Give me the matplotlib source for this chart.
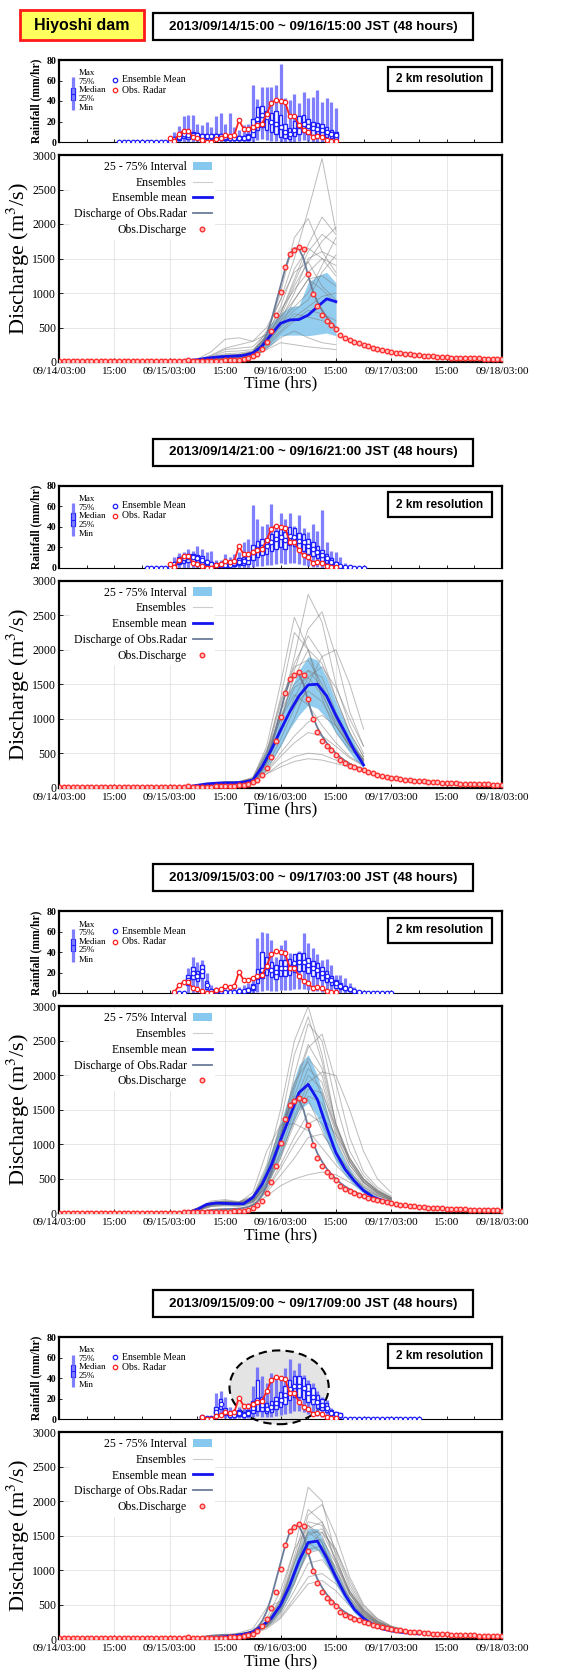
import matplotlib
matplotlib.use('Agg')
import matplotlib.pyplot as plt
from matplotlib.patches import Rectangle, Ellipse, Patch
from matplotlib.lines import Line2D

plt.rcParams['font.family'] = ['Liberation Serif', 'DejaVu Serif']
plt.rcParams['mathtext.fontset'] = 'stix'

# ---------------- data ----------------
TITLES = ['2013/09/14/15:00 ~ 09/16/15:00 JST (48 hours)',
          '2013/09/14/21:00 ~ 09/16/21:00 JST (48 hours)',
          '2013/09/15/03:00 ~ 09/17/03:00 JST (48 hours)',
          '2013/09/15/09:00 ~ 09/17/09:00 JST (48 hours)']
XTICK_HOURS = [0, 12, 24, 36, 48, 60, 72, 84, 96]
XTICK_LABELS = ['09/14/03:00', '15:00', '09/15/03:00', '15:00', '09/16/03:00',
                '15:00', '09/17/03:00', '15:00', '09/18/03:00']
FORECAST_START = [12, 18, 24, 30]   # hours after 09/14/03:00

# observed discharge, hourly from 09/14/03:00 (h0) to 09/18/03:00 (h96)
OBS_DISCHARGE = [12, 12, 12, 12, 12, 12, 12, 12, 12, 12,
                 12, 12, 12, 12, 12, 12, 12, 12, 12, 12,
                 12, 12, 12, 12, 12, 12, 12, 15, 25, 15,
                 14, 14, 15, 16, 18, 20, 22, 25, 28, 32,
                 38, 55, 80, 115, 185, 290, 450, 680, 1020, 1370,
                 1570, 1630, 1670, 1640, 1280, 990, 810, 680, 600, 540,
                 480, 395, 355, 320, 295, 270, 250, 228, 208, 190,
                 175, 160, 147, 136, 126, 117, 109, 102, 96, 90,
                 85, 80, 76, 72, 68, 65, 62, 59, 57, 55,
                 53, 51, 49, 47, 45, 44, 42]

# discharge simulated with observed radar rainfall, hourly h24..h78
RADAR_Q_START = 24
RADAR_DISCHARGE = [8, 8, 9, 10, 12, 15, 20, 30, 40, 50,
                   55, 60, 62, 64, 66, 70, 80, 95, 120, 170,
                   260, 400, 600, 850, 1100, 1350, 1550, 1650, 1640, 1500,
                   1250, 1030, 870, 750, 650, 570, 500, 440, 390, 350,
                   315, 285, 260, 235, 215, 195, 180, 165, 152, 140,
                   130, 120, 112, 105, 98]

# observed radar rainfall (mm/hr), hourly h24..h60
RADAR_RAIN_START = 24
RADAR_RAIN = [4, 1, 8, 11, 11, 5, 4, 2, 0, 0,
              3, 4, 7, 6, 7, 21, 13, 13, 15, 17,
              18, 27, 38, 41, 40, 39, 25, 25, 17, 12,
              10, 5, 6, 5, 2, 1, 1]

# ---- ensemble rainfall statistics, hourly, 48 values starting at start+1 ----
P1_RAIN_MEAN = [0, 0, 0, 0, 0, 0, 0, 0, 0, 0, 0,
                1, 3, 5, 8, 7, 7, 7, 6, 6, 6, 6, 6, 5, 4, 4, 4, 4, 5,
                12, 22, 26, 24, 20, 18, 15, 10, 8, 12, 16, 18, 16, 14, 13, 12, 10, 8, 7]
P1_RAIN_Q25 = [0, 0, 0, 0, 0, 0, 0, 0, 0, 0, 0,
               0, 1, 2, 4, 3, 4, 3, 3, 3, 3, 3, 3, 2, 2, 2, 2, 2, 2,
               5, 12, 15, 12, 10, 8, 5, 4, 3, 6, 8, 10, 8, 7, 7, 6, 5, 4, 3]
P1_RAIN_Q75 = [0, 0, 0, 0, 0, 0, 0, 0, 0, 0, 0,
               2, 5, 8, 12, 10, 10, 9, 8, 8, 8, 8, 8, 7, 7, 6, 6, 6, 8,
               22, 34, 35, 30, 28, 30, 26, 18, 14, 20, 25, 26, 22, 20, 19, 18, 15, 12, 10]
P1_RAIN_MAX = [0, 0, 0, 0, 0, 0, 0, 0, 0, 0, 0,
               3, 10, 16, 25, 26, 26, 18, 17, 20, 15, 25, 28, 18, 28, 15, 12, 17, 18,
               56, 42, 54, 54, 54, 56, 76, 43, 41, 47, 38, 49, 43, 44, 51, 39, 43, 39, 33]
P1_RAIN_MIN = [0, 0, 0, 0, 0, 0, 0, 0, 0, 0, 0,
               0, 0, 0, 0, 0, 0, 0, 0, 0, 0, 0, 0, 0, 0, 0, 0, 0, 0,
               0, 2, 3, 2, 1, 1, 0, 0, 0, 0, 1, 2, 1, 0, 0, 0, 0, 0, 0]

P2_RAIN_MEAN = [0, 0, 0, 0, 0,
                1, 4, 7, 9, 10, 10, 9, 8, 6, 4, 3, 3, 3, 3, 5, 6, 7, 9,
                15, 18, 20, 21, 25, 28, 30, 27, 31, 30, 26, 25, 21, 18, 15, 12, 9, 6, 4, 2, 1, 1, 0, 0, 0]
P2_RAIN_Q25 = [0, 0, 0, 0, 0,
               0, 2, 4, 5, 6, 6, 5, 4, 3, 2, 1, 1, 1, 1, 2, 3, 3, 4,
               8, 10, 12, 13, 16, 18, 20, 18, 22, 21, 17, 16, 13, 11, 9, 7, 5, 3, 2, 1, 0, 0, 0, 0, 0]
P2_RAIN_Q75 = [0, 0, 0, 0, 0,
               2, 6, 10, 12, 13, 13, 12, 11, 8, 6, 5, 5, 5, 5, 8, 9, 10, 14,
               22, 26, 28, 29, 33, 36, 38, 35, 40, 39, 34, 33, 28, 25, 21, 17, 13, 9, 6, 3, 2, 2, 0, 0, 0]
P2_RAIN_MAX = [0, 0, 0, 0, 0,
               3, 10, 14, 15, 18, 16, 21, 18, 15, 16, 8, 8, 13, 10, 13, 15, 25, 28,
               61, 48, 41, 43, 62, 41, 53, 48, 53, 41, 51, 39, 35, 43, 36, 56, 25, 16, 15, 10, 5, 3, 1, 0, 0]
P2_RAIN_MIN = [0, 0, 0, 0, 0,
               0, 0, 0, 0, 0, 0, 0, 0, 0, 0, 0, 0, 0, 0, 0, 0, 0, 0,
               1, 2, 2, 3, 3, 4, 5, 4, 5, 5, 4, 3, 2, 1, 1, 0, 0, 0, 0, 0, 0, 0, 0, 0, 0]

P3_RAIN_MEAN = [0, 0, 0,
                13, 20, 17, 22, 8, 2, 2, 2, 1, 1, 1, 2, 2,
                3, 6, 16, 23, 26, 23, 21, 25, 25, 26, 30, 31, 31, 28, 25, 23, 20, 17, 13, 10,
                7, 5, 4, 2, 1, 0, 0, 0, 0, 0, 0, 0]
P3_RAIN_Q25 = [0, 0, 0,
               8, 14, 12, 15, 4, 1, 1, 1, 0, 0, 0, 1, 1,
               1, 3, 10, 15, 18, 16, 14, 17, 17, 18, 21, 22, 22, 20, 17, 15, 13, 11, 8, 5,
               4, 3, 2, 1, 0, 0, 0, 0, 0, 0, 0, 0]
P3_RAIN_Q75 = [0, 0, 0,
               18, 26, 22, 28, 12, 4, 4, 3, 2, 2, 2, 3, 3,
               5, 9, 24, 40, 36, 31, 28, 33, 33, 34, 38, 39, 39, 35, 32, 30, 26, 22, 17, 13,
               10, 7, 5, 3, 1, 0, 0, 0, 0, 0, 0, 0]
P3_RAIN_MAX = [0, 0, 0,
               25, 36, 31, 33, 20, 8, 6, 5, 4, 4, 5, 6, 8,
               10, 16, 54, 60, 59, 52, 36, 47, 52, 39, 36, 41, 59, 49, 44, 38, 33, 34, 28, 18,
               18, 15, 10, 6, 3, 1, 0, 0, 0, 0, 0, 0]
P3_RAIN_MIN = [0, 0, 0,
               0, 0, 0, 0, 0, 0, 0, 0, 0, 0, 0, 0, 0,
               0, 0, 1, 2, 3, 2, 2, 3, 3, 3, 4, 4, 4, 3, 2, 2, 1, 1, 0, 0,
               0, 0, 0, 0, 0, 0, 0, 0, 0, 0, 0, 0]

P4_RAIN_MEAN = [2, 1, 1, 7, 15, 7, 4, 4, 6, 4, 6, 11, 19, 14, 10, 12, 16, 19, 24, 29,
                32, 32, 30, 25, 22, 17, 14, 11, 6, 5, 4,
                0, 0, 0, 0, 0, 0, 0, 0, 0, 0, 0, 0, 0, 0, 0, 0, 0]
P4_RAIN_Q25 = [1, 0, 0, 4, 10, 4, 2, 2, 3, 2, 3, 6, 8, 8, 6, 7, 10, 12, 15, 19,
               22, 22, 20, 17, 15, 11, 9, 7, 4, 3, 2,
               0, 0, 0, 0, 0, 0, 0, 0, 0, 0, 0, 0, 0, 0, 0, 0, 0]
P4_RAIN_Q75 = [3, 2, 2, 12, 20, 11, 6, 6, 9, 7, 9, 18, 38, 22, 16, 18, 22, 26, 32, 38,
               42, 42, 40, 34, 30, 24, 20, 16, 9, 7, 6,
               0, 0, 0, 0, 0, 0, 0, 0, 0, 0, 0, 0, 0, 0, 0, 0, 0]
P4_RAIN_MAX = [4, 3, 3, 25, 27, 22, 12, 10, 12, 14, 16, 32, 51, 42, 35, 45, 42, 42, 50, 59,
               48, 55, 43, 38, 35, 27, 22, 19, 11, 7, 5,
               0, 0, 0, 0, 0, 0, 0, 0, 0, 0, 0, 0, 0, 0, 0, 0, 0]
P4_RAIN_MIN = [0, 0, 0, 1, 3, 1, 0, 0, 1, 0, 1, 2, 3, 2, 2, 2, 3, 4, 5, 6,
               8, 8, 7, 5, 4, 3, 2, 1, 0, 0, 0,
               0, 0, 0, 0, 0, 0, 0, 0, 0, 0, 0, 0, 0, 0, 0, 0, 0]

# ---- ensemble discharge: mean and 25-75% band every 2 h (25 values from start) ----
P1_Q_MEAN = [0, 0, 0, 1, 2, 3, 5, 10, 20, 35, 55, 70, 80, 85, 95, 130, 230, 400, 560, 610, 615, 680, 800, 915, 875]
P1_Q_25 = [0, 0, 0, 0, 1, 2, 3, 6, 12, 22, 35, 45, 55, 60, 70, 95, 150, 250, 380, 390, 390, 380, 400, 420, 380]
P1_Q_75 = [0, 0, 0, 2, 3, 5, 8, 15, 30, 50, 75, 95, 110, 115, 125, 170, 330, 560, 700, 800, 820, 1150, 1250, 1300, 1150]

P2_Q_MEAN = [0, 0, 1, 2, 5, 15, 35, 55, 65, 70, 70, 80, 110, 300, 550, 830, 1100, 1330, 1490, 1500, 1330, 1050, 800, 540, 330]
P2_Q_25 = [0, 0, 0, 1, 3, 10, 25, 40, 50, 55, 55, 62, 85, 200, 380, 600, 850, 1050, 1200, 1150, 1000, 800, 600, 420, 280]
P2_Q_75 = [0, 0, 1, 3, 8, 22, 45, 70, 80, 85, 85, 100, 140, 420, 700, 1050, 1400, 1700, 1900, 1850, 1600, 1250, 950, 650, 380]

P3_Q_MEAN = [0, 0, 10, 60, 130, 150, 145, 140, 140, 230, 420, 700, 1060, 1400, 1750, 1870, 1650, 1250, 880, 640, 470, 330, 240, 190, 155]
P3_Q_25 = [0, 0, 5, 40, 100, 120, 120, 115, 115, 170, 320, 550, 850, 1200, 1500, 1600, 1400, 1050, 750, 550, 400, 290, 210, 170, 140]
P3_Q_75 = [0, 0, 12, 80, 150, 170, 165, 160, 160, 280, 530, 900, 1300, 1750, 2150, 2300, 2000, 1500, 1050, 760, 540, 380, 280, 210, 170]

P4_Q_MEAN = [5, 10, 20, 35, 50, 70, 100, 190, 300, 490, 780, 1130, 1400, 1420, 1180, 900, 640, 430, 300, 210, 150, 120, 100, 85, 75]
P4_Q_25 = [3, 7, 15, 28, 40, 55, 80, 150, 240, 400, 650, 1000, 1280, 1300, 1070, 800, 560, 380, 265, 185, 135, 108, 92, 80, 70]
P4_Q_75 = [6, 12, 25, 42, 60, 85, 120, 230, 360, 580, 900, 1300, 1600, 1600, 1320, 1000, 720, 490, 340, 240, 170, 135, 110, 95, 82]

# ---- individual ensemble members, every 3 h (17 values from start) ----
P1_MEMBERS = [
    [0, 0, 0, 0, 2, 5, 15, 40, 80, 100, 150, 450, 900, 1500, 2200, 2950, 1900],
    [0, 0, 0, 0, 2, 5, 20, 60, 90, 100, 140, 400, 1000, 1800, 2080, 1600, 1300],
    [0, 0, 0, 0, 3, 8, 25, 70, 100, 110, 150, 350, 700, 1200, 1700, 2100, 1850],
    [0, 0, 0, 0, 2, 6, 20, 50, 80, 90, 130, 300, 650, 1100, 1450, 1750, 1950],
    [0, 0, 0, 0, 2, 5, 15, 45, 70, 80, 120, 280, 600, 1000, 1500, 1600, 1500],
    [0, 0, 0, 0, 3, 8, 30, 100, 200, 250, 300, 500, 900, 1300, 1450, 1100, 900],
    [0, 0, 0, 0, 3, 10, 40, 150, 330, 350, 300, 400, 650, 900, 1200, 1250, 1100],
    [0, 0, 0, 0, 2, 5, 15, 40, 60, 70, 100, 250, 450, 650, 800, 950, 1000],
    [0, 0, 0, 0, 1, 3, 10, 30, 50, 60, 90, 200, 350, 450, 350, 280, 250],
    [0, 0, 0, 0, 1, 3, 10, 30, 50, 55, 80, 180, 280, 250, 220, 200, 180],
    [0, 0, 0, 0, 2, 6, 25, 80, 150, 160, 180, 350, 600, 800, 1000, 1400, 1800],
    [0, 0, 0, 0, 2, 5, 20, 60, 100, 110, 140, 320, 550, 750, 900, 1300, 1550],
    [0, 0, 0, 0, 2, 5, 18, 50, 80, 90, 120, 280, 500, 700, 650, 600, 500],
    [0, 0, 0, 0, 2, 6, 22, 70, 120, 130, 160, 380, 800, 1350, 1650, 1500, 1250],
    [0, 0, 0, 0, 2, 5, 18, 55, 90, 100, 130, 330, 700, 1150, 1600, 1850, 1700],
    [0, 0, 0, 0, 1, 4, 12, 35, 55, 65, 95, 220, 420, 600, 750, 700, 600],
    [0, 0, 0, 0, 2, 7, 28, 90, 180, 200, 220, 420, 750, 1050, 1300, 1500, 1400],
    [0, 0, 0, 0, 1, 4, 14, 40, 65, 75, 110, 260, 520, 900, 1200, 1050, 850],
]
P2_MEMBERS = [
    [0, 0, 1, 5, 30, 60, 80, 80, 120, 400, 1100, 1900, 2800, 2400, 1500, 900, 500],
    [0, 0, 1, 5, 25, 55, 70, 75, 110, 350, 900, 1700, 2300, 2550, 1900, 1100, 600],
    [0, 0, 1, 6, 35, 70, 90, 90, 140, 600, 1500, 2470, 2000, 1300, 800, 550, 400],
    [0, 0, 1, 5, 30, 60, 80, 80, 130, 500, 1300, 2250, 2000, 1400, 900, 600, 400],
    [0, 0, 1, 4, 20, 45, 60, 65, 100, 250, 600, 1000, 1500, 1900, 2000, 1500, 850],
    [0, 0, 1, 5, 30, 60, 75, 80, 120, 400, 1000, 1600, 2000, 1800, 1300, 800, 450],
    [0, 0, 1, 5, 30, 60, 75, 80, 110, 350, 800, 1300, 1700, 1600, 1100, 700, 400],
    [0, 0, 1, 4, 25, 50, 65, 70, 90, 250, 500, 750, 950, 1050, 900, 600, 380],
    [0, 0, 1, 3, 20, 45, 60, 60, 80, 200, 350, 450, 500, 480, 400, 330, 280],
    [0, 0, 1, 3, 20, 45, 60, 60, 80, 200, 300, 380, 420, 400, 350, 300, 250],
    [0, 0, 1, 5, 30, 60, 75, 80, 120, 450, 1100, 1500, 1700, 1450, 1000, 650, 420],
    [0, 0, 1, 5, 28, 55, 70, 75, 110, 380, 850, 1200, 1400, 1250, 900, 600, 380],
    [0, 0, 1, 6, 35, 65, 80, 85, 150, 550, 1000, 1350, 1200, 900, 650, 450, 330],
    [0, 0, 1, 5, 30, 60, 75, 80, 125, 480, 1200, 1800, 2200, 1900, 1300, 800, 450],
    [0, 0, 1, 4, 25, 50, 65, 70, 100, 300, 700, 1150, 1600, 1750, 1450, 1000, 600],
    [0, 0, 1, 5, 28, 55, 70, 75, 115, 420, 1000, 1450, 1600, 1350, 950, 620, 400],
    [0, 0, 1, 4, 22, 48, 62, 65, 90, 230, 450, 650, 800, 750, 600, 430, 320],
    [0, 0, 1, 5, 30, 60, 75, 80, 130, 520, 1250, 1750, 1850, 1500, 1000, 650, 420],
]
P3_MEMBERS = [
    [0, 3, 80, 180, 200, 170, 250, 700, 1500, 2500, 3000, 2300, 1300, 800, 500, 330, 230],
    [0, 3, 70, 160, 180, 160, 230, 600, 1300, 2300, 2850, 2200, 1300, 750, 450, 300, 200],
    [0, 3, 60, 150, 170, 150, 200, 500, 1100, 2000, 2750, 2500, 1600, 900, 550, 350, 230],
    [0, 3, 60, 140, 160, 150, 200, 450, 1000, 1800, 2400, 2600, 1900, 1100, 600, 380, 250],
    [0, 2, 50, 120, 140, 130, 180, 400, 800, 1400, 1900, 2050, 2000, 1500, 900, 500, 300],
    [0, 3, 70, 150, 170, 160, 300, 900, 1280, 1300, 1200, 950, 700, 500, 350, 250, 180],
    [0, 2, 50, 120, 140, 130, 170, 350, 700, 1100, 1450, 1300, 900, 600, 400, 280, 200],
    [0, 2, 40, 100, 120, 110, 150, 300, 550, 800, 1100, 1150, 900, 600, 380, 260, 190],
    [0, 2, 40, 100, 110, 100, 130, 250, 400, 500, 560, 600, 560, 450, 340, 260, 190],
    [0, 3, 60, 130, 150, 140, 190, 450, 1000, 1600, 2100, 1900, 1200, 750, 480, 320, 220],
    [0, 3, 55, 130, 150, 140, 180, 400, 900, 1500, 2000, 1800, 1150, 700, 450, 300, 200],
    [0, 3, 70, 150, 170, 160, 220, 600, 1200, 1900, 2200, 1700, 1050, 650, 420, 290, 200],
    [0, 2, 50, 120, 140, 130, 170, 380, 800, 1300, 1700, 1600, 1100, 700, 450, 300, 210],
    [0, 3, 65, 150, 170, 155, 210, 550, 1150, 1850, 2450, 2100, 1300, 780, 480, 320, 220],
    [0, 3, 60, 140, 160, 150, 200, 500, 1050, 1700, 2250, 2000, 1250, 750, 460, 310, 210],
    [0, 2, 55, 130, 150, 140, 180, 420, 850, 1350, 1800, 1750, 1250, 800, 500, 330, 220],
    [0, 3, 70, 160, 180, 165, 240, 650, 1250, 1700, 1650, 1200, 800, 550, 380, 270, 190],
    [0, 2, 45, 110, 130, 120, 160, 330, 650, 1000, 1300, 1400, 1150, 800, 500, 330, 220],
]
P4_MEMBERS = [
    [3, 15, 40, 70, 110, 250, 600, 1300, 2200, 2000, 1200, 650, 380, 230, 160, 120, 95],
    [3, 15, 40, 70, 100, 220, 500, 1100, 1800, 1950, 1500, 900, 500, 300, 190, 130, 100],
    [3, 15, 40, 70, 110, 240, 550, 1200, 1880, 1700, 1100, 650, 380, 230, 160, 120, 95],
    [3, 15, 40, 70, 100, 200, 450, 950, 1600, 1700, 1300, 800, 450, 280, 180, 130, 100],
    [3, 15, 40, 70, 120, 300, 700, 1300, 1650, 1400, 900, 550, 340, 220, 150, 115, 90],
    [2, 12, 35, 60, 90, 180, 380, 800, 1300, 1350, 1000, 650, 400, 250, 170, 125, 95],
    [2, 12, 35, 60, 90, 180, 350, 700, 1100, 1150, 900, 600, 380, 240, 165, 120, 92],
    [2, 10, 30, 55, 80, 150, 300, 550, 800, 850, 700, 480, 320, 210, 150, 115, 90],
    [2, 12, 35, 60, 90, 170, 320, 600, 900, 950, 800, 550, 350, 230, 160, 120, 92],
    [4, 18, 50, 90, 150, 450, 550, 800, 1350, 1550, 1300, 850, 480, 290, 185, 130, 98],
    [3, 15, 40, 70, 110, 230, 500, 1100, 1650, 1500, 1000, 600, 360, 225, 155, 118, 92],
    [3, 15, 40, 70, 100, 210, 480, 1000, 1500, 1600, 1250, 750, 430, 260, 170, 125, 96],
    [2, 12, 35, 60, 90, 190, 420, 950, 1400, 1250, 850, 520, 330, 210, 150, 115, 90],
    [3, 15, 40, 70, 105, 230, 520, 1150, 1700, 1650, 1150, 680, 400, 240, 165, 122, 95],
    [3, 14, 38, 66, 100, 210, 470, 1000, 1550, 1550, 1150, 700, 410, 250, 168, 123, 94],
    [2, 12, 35, 60, 95, 200, 430, 900, 1400, 1450, 1100, 700, 420, 260, 170, 125, 95],
    [3, 15, 42, 75, 115, 260, 560, 1100, 1550, 1400, 950, 580, 350, 225, 155, 118, 92],
    [2, 13, 36, 62, 95, 190, 400, 850, 1250, 1300, 1050, 680, 420, 260, 172, 126, 96],
]

PANELS = [
    dict(rain=(P1_RAIN_MIN, P1_RAIN_Q25, P1_RAIN_MEAN, P1_RAIN_Q75, P1_RAIN_MAX),
         q=(P1_Q_25, P1_Q_MEAN, P1_Q_75), members=P1_MEMBERS),
    dict(rain=(P2_RAIN_MIN, P2_RAIN_Q25, P2_RAIN_MEAN, P2_RAIN_Q75, P2_RAIN_MAX),
         q=(P2_Q_25, P2_Q_MEAN, P2_Q_75), members=P2_MEMBERS),
    dict(rain=(P3_RAIN_MIN, P3_RAIN_Q25, P3_RAIN_MEAN, P3_RAIN_Q75, P3_RAIN_MAX),
         q=(P3_Q_25, P3_Q_MEAN, P3_Q_75), members=P3_MEMBERS),
    dict(rain=(P4_RAIN_MIN, P4_RAIN_Q25, P4_RAIN_MEAN, P4_RAIN_Q75, P4_RAIN_MAX),
         q=(P4_Q_25, P4_Q_MEAN, P4_Q_75), members=P4_MEMBERS),
]

# ---------------- styling ----------------
W, H = 580, 1678
fig = plt.figure(figsize=(W / 100, H / 100), dpi=100)
SANS = 'Liberation Sans'
C_WHISK = '#6060ff'
C_BOX = '#2020ff'
C_RED = '#ff2020'
C_BAND = '#86c8ee'
C_MEMBER = '#7a7a7a'
C_MEAN = '#1414f0'
C_RADARQ = '#6c7c98'
PANEL_DY = 425.7


def fax(x, y, w, h):
    return fig.add_axes([x / W, 1 - (y + h) / H, w / W, h / H])


def frect(x, y, w, h, **kw):
    fig.add_artist(Rectangle((x / W, 1 - (y + h) / H), w / W, h / H,
                             transform=fig.transFigure, **kw))


# Station label
frect(20, 10, 124, 30, facecolor='#ffff5e', edgecolor='#ff1a1a', lw=2)
fig.text(82 / W, 1 - 25.5 / H, 'Hiyoshi dam', ha='center', va='center',
         family=SANS, weight='bold', fontsize=11.5)

for i, P in enumerate(PANELS):
    dy = PANEL_DY * i
    start = FORECAST_START[i]

    # ---- title box ----
    frect(153, 13 + dy, 320, 27, facecolor='white', edgecolor='black', lw=1.6)
    fig.text(313 / W, 1 - (26.8 + dy) / H, TITLES[i], ha='center', va='center',
             family=SANS, weight='bold', fontsize=9.6)

    # ---- rainfall panel ----
    ar = fax(59, 60 + dy, 443, 82)
    ar.set_xlim(0, 96)
    ar.set_ylim(0, 80)
    ar.set_yticks([0, 20, 40, 60, 80])
    ar.set_xticks(range(0, 97, 6))
    ar.set_xticklabels([])
    ar.tick_params(axis='both', direction='in', length=2, width=0.6)
    ar.tick_params(axis='y', labelsize=7, pad=2)
    for lab in ar.get_yticklabels():
        lab.set_fontweight('bold')
    for s in ['top', 'left', 'right']:
        ar.spines[s].set_linewidth(1.6)
    ar.spines['bottom'].set_linewidth(0.8)
    ar.set_ylabel('Rainfall (mm/hr)', fontsize=8.3, weight='bold', labelpad=3)

    rmin, rq25, rmean, rq75, rmax = P['rain']
    hours = [start + 1 + k for k in range(len(rmean))]
    for h, lo, a, b, hi in zip(hours, rmin, rq25, rq75, rmax):
        if hi > 0:
            ar.vlines(h, lo, hi, color=C_WHISK, lw=2.3, alpha=0.8, zorder=2)
            ar.add_patch(Rectangle((h - 0.38, a), 0.76, b - a, facecolor='white',
                                   edgecolor=C_BOX, lw=1.0, zorder=3))
    ar.plot(hours, rmean, 'o', ms=3.2, mfc='white', mec=C_BOX, mew=0.9,
            ls='none', zorder=4)
    rr_h = [RADAR_RAIN_START + k for k in range(len(RADAR_RAIN))]
    sel = [(h, v) for h, v in zip(rr_h, RADAR_RAIN) if h > start]
    ar.plot([s[0] for s in sel], [s[1] for s in sel], '-o', color=C_RED, lw=1.3,
            ms=3.2, mfc='white', mec=C_RED, mew=0.9, zorder=5)

    # legend glyph (box plot key)
    ar.vlines(3.0, 31, 63, color=C_WHISK, lw=2.3, alpha=0.8)
    ar.add_patch(Rectangle((2.6, 41), 0.8, 12, facecolor='white', edgecolor=C_BOX, lw=0.9))
    ar.hlines(47, 2.6, 3.4, color=C_BOX, lw=0.8)
    for txt, yv in zip(['Max', '75%', 'Median', '25%', 'Min'], [67, 58.5, 50.5, 42, 33]):
        ar.text(4.3, yv, txt, fontsize=6.5, va='center', ha='left')
    ar.plot([12.1], [60.5], 'o', ms=3.2, mfc='white', mec=C_BOX, mew=0.9)
    ar.text(13.6, 60.5, 'Ensemble Mean', fontsize=7, va='center')
    ar.plot([12.1], [50.5], 'o', ms=3.2, mfc='white', mec=C_RED, mew=0.9)
    ar.text(13.6, 50.5, 'Obs. Radar', fontsize=7, va='center')

    # resolution box
    ar.add_patch(Rectangle((0.742, 0.62), 0.236, 0.30, transform=ar.transAxes,
                           facecolor='white', edgecolor='black', lw=1.6, zorder=6))
    ar.text(0.86, 0.77, '2 km resolution', transform=ar.transAxes, ha='center',
            va='center', family=SANS, weight='bold', fontsize=8.5, zorder=7)

    if i == 3:
        ar.add_patch(Ellipse((47.7, 31), 21.5, 72, facecolor='#e4e4e4',
                             edgecolor='black', ls=(0, (4, 2.5)), lw=1.5,
                             clip_on=False, zorder=1))

    # ---- discharge panel ----
    ad = fax(59, 155 + dy, 443, 207)
    ad.set_xlim(0, 96)
    ad.set_ylim(0, 3000)
    ad.set_xticks(XTICK_HOURS)
    ad.set_xticklabels(XTICK_LABELS, fontsize=8)
    ad.set_yticks(range(0, 3001, 500))
    ad.tick_params(axis='y', labelsize=8.5, pad=2)
    ad.tick_params(axis='both', direction='in', length=3, width=0.6)
    ad.tick_params(axis='x', pad=3.5)
    ad.grid(True, color='#e2e2e2', lw=0.6)
    ad.set_axisbelow(True)
    for s in ad.spines.values():
        s.set_linewidth(1.6)
    ad.set_ylabel('Discharge (m$^3$/s)', fontsize=16, labelpad=0)
    ad.set_xlabel('Time (hrs)', fontsize=12.5, labelpad=0)

    q25, qmean, q75 = P['q']
    qh = [start + 2 * k for k in range(len(qmean))]
    ad.fill_between(qh, q25, q75, color=C_BAND, alpha=0.9, lw=0, zorder=2)
    mh = [start + 3 * k for k in range(17)]
    for mem in P['members']:
        ad.plot(mh, mem, color=C_MEMBER, lw=0.7, alpha=0.5, zorder=3)
    end = start + 48
    rq = [(RADAR_Q_START + k, v) for k, v in enumerate(RADAR_DISCHARGE)
          if start <= RADAR_Q_START + k <= end]
    ad.plot([r[0] for r in rq], [r[1] for r in rq], color=C_RADARQ, lw=1.3, zorder=4)
    ad.plot(qh, qmean, color=C_MEAN, lw=2, zorder=5)
    ad.plot(range(len(OBS_DISCHARGE)), OBS_DISCHARGE, 'o', ms=3.3, mfc='#ffc4c4',
            mec='#ff3030', mew=1, ls='none', zorder=6)

    handles = [Patch(facecolor=C_BAND, edgecolor='none'),
               Line2D([], [], color='#cccccc', lw=0.8),
               Line2D([], [], color=C_MEAN, lw=2),
               Line2D([], [], color=C_RADARQ, lw=1.3),
               Line2D([], [], marker='o', ls='none', ms=3.3, mfc='#ffc4c4',
                      mec='#ff3030', mew=1)]
    labels = ['25 - 75% Interval', 'Ensembles', 'Ensemble mean',
              'Discharge of Obs.Radar', 'Obs.Discharge']
    leg = ad.legend(handles, labels, loc='upper left', bbox_to_anchor=(0.02, 1.0),
                    markerfirst=False, fontsize=8.5, frameon=True, framealpha=1,
                    edgecolor='none', facecolor='white', handlelength=1.6,
                    handletextpad=0.5, labelspacing=0.32, borderpad=0.3,
                    borderaxespad=0.2, fancybox=False)
    for t in leg.get_texts():
        t.set_ha('right')
    leg.set_zorder(10)

fig.savefig('out.png', dpi=100)
